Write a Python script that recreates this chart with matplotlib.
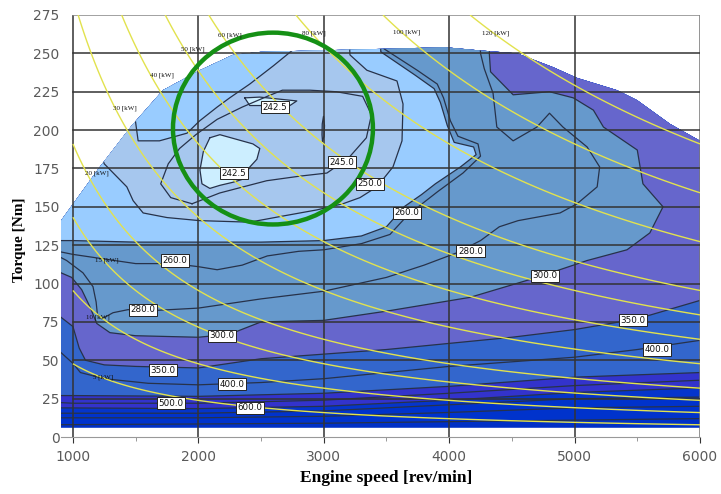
import numpy as np
import matplotlib
matplotlib.use("Agg")
import matplotlib.pyplot as plt
from matplotlib.patches import Polygon, Ellipse

# ---------------- data ----------------
speed_ticks = [1000, 2000, 3000, 4000, 5000, 6000]
speed_minor = [1500, 2500, 3500, 4500, 5500]
torque_ticks = [0, 25, 50, 75, 100, 125, 150, 175, 200, 225, 250, 275]

# full-load torque curve (Nm) and lowest mapped torque
wot_speed = [905, 1215, 1470, 1718, 2013, 2276, 2500, 3000, 3500, 3966, 4230, 4541, 4828, 5019, 5338, 5498, 5761, 6000]
wot_torque = [141, 176, 203, 226, 239, 249, 251, 252, 253, 254, 252, 250, 241, 234, 226, 219.5, 204, 193]
min_torque = 6

# iso-BSFC lines [g/kWh] : speed [rev/min], torque [Nm]
bsfc_1000_speed = [880, 2000, 3000, 4000, 5000, 6000]
bsfc_1000_torque = [8, 8.5, 9, 10, 11, 12]
bsfc_800_speed = [880, 2000, 3000, 4000, 5000, 6000]
bsfc_800_torque = [12.5, 12.5, 13.5, 16, 19, 20]
bsfc_700_speed = [880, 2000, 3000, 4000, 5000, 6000]
bsfc_700_torque = [15.5, 15.5, 17, 21, 25, 26]
bsfc_600_speed = [880, 2000, 3000, 4000, 5000, 6000]
bsfc_600_torque = [19, 18.5, 20, 24, 29, 32]
bsfc_500_speed = [880, 1000, 2000, 3000, 4000, 5000, 6000]
bsfc_500_torque = [22.5, 22, 22, 24, 28.5, 33.5, 37]
bsfc_450_speed = [880, 1000, 2000, 3000, 4000, 5000, 6000]
bsfc_450_torque = [27, 27, 26.5, 28.5, 33, 39, 42]
bsfc_400_speed = [880, 905, 1000, 1060, 1250, 1600, 2000, 2500, 3000, 3500, 4000, 4500, 5000, 5500, 6000]
bsfc_400_torque = [57, 55, 48, 42, 38, 35, 34, 35.5, 38, 42, 46, 49, 52, 57, 63]
bsfc_350_speed = [880, 905, 1000, 1050, 1100, 1250, 1500, 2000, 2500, 3000, 3500, 4000, 4500, 5000, 5500, 6000]
bsfc_350_torque = [80, 78, 72, 58, 50, 47, 46, 45, 51, 54, 57, 61, 65, 70, 77, 89]
bsfc_300_speed = [880, 905, 990, 1070, 1135, 1190, 1295, 1500, 2000, 2250, 2500, 3000, 3500, 4166, 4700, 5100,
                  5418, 5600, 5705, 5545, 5500, 5230, 5150, 4990, 4800, 4510, 4330, 4320, 4330]
bsfc_300_torque = [109, 107, 104, 96, 85, 74, 68, 66, 65, 67, 75, 76, 82, 91, 104, 115,
                   122, 133, 150, 165, 187, 202, 213, 221, 225, 223, 238, 250, 270]
bsfc_280_speed = [880, 950, 1080, 1160, 1185, 1195, 1230, 1320, 1440, 1550, 2000, 2500, 3000, 3500, 3800, 4060,
                  4250, 4400, 4550, 4884, 5020, 5180, 5200, 5100, 4907, 4800, 4700, 4510, 4380, 4350, 4280,
                  4250, 4240]
bsfc_280_torque = [118, 115, 107, 98, 88, 80, 77, 81, 83, 82, 84, 90, 95, 104, 112, 120,
                   128, 137, 141, 146, 152, 163, 176, 189, 202, 211, 202, 193, 202, 224, 240,
                   250, 270]
bsfc_260_speed = [880, 1000, 1250, 1500, 1800, 2000, 2150, 2350, 2550, 2800, 3000, 3300, 3528, 3663, 3800, 3910,
                  4110, 4250, 4230, 4070, 4010, 3955, 3905, 3745, 3480, 3470]
bsfc_260_torque = [121, 119, 116, 113, 113, 111, 109, 112, 118, 121, 122, 126, 132, 144, 153, 160,
                   172, 183, 191, 196, 206, 221, 230, 239, 253, 270]
bsfc_255_speed = [880, 1000, 1500, 2000, 2500, 3000, 3300, 3500, 3640, 3780, 3890, 4090, 4215, 4195, 4040, 3985,
                  3930, 3880, 3725, 3455, 3445]
bsfc_255_torque = [128, 128, 127, 127, 127, 128, 131, 137, 150, 158, 165, 176, 184, 189, 192, 203,
                   218, 227, 236, 251, 270]
bsfc_250_speed = [3200, 3209, 3344, 3584, 3632, 3624, 3552, 3424, 3289, 3153, 2946, 2675, 2410, 2010, 1750, 1560,
                  1480, 1430, 1250, 1150, 1450, 1500, 1520, 1690, 1910, 2010, 2150, 2250, 2410, 2600, 2750, 2760]
bsfc_250_torque = [265, 249, 239, 232, 217, 193, 176, 163, 156, 152, 148, 144, 140, 141, 143, 146,
                   154, 163, 178, 200, 232, 205, 193, 193, 198, 206, 215, 221, 230, 242, 252, 265]
bsfc_245_speed = [1950, 1780, 1700, 1760, 1850, 1980, 2150, 2350, 2550, 2670, 2890, 3100, 3310, 3380, 3340, 3200,
                  3025, 2810, 2545, 2170, 1950]
bsfc_245_torque = [152, 156, 165, 178, 188, 197, 207, 215, 222, 226, 226, 225, 222, 210, 195, 182,
                   172, 170, 167, 159, 152]
bsfc_2425a_speed = [2370, 2490, 2785, 2730, 2410, 2370]
bsfc_2425a_torque = [221, 221.5, 219, 216, 216, 221]
bsfc_2425b_speed = [2092, 2172, 2435, 2490, 2467, 2411, 2355, 2276, 2172, 2092, 2029, 2013, 2040, 2092]
bsfc_2425b_torque = [195, 197, 191, 188, 181, 176, 168, 166, 164, 162, 165, 174, 186, 195]
bsfc_dot_speed = [2990, 3003, 3006, 2998, 2988, 2986, 2990]
bsfc_dot_torque = [193, 196, 203, 209, 204, 197, 193]

# boxed BSFC labels
bsfc_label_text = ['242.5', '242.5', '245.0', '250.0', '260.0', '260.0', '280.0', '280.0',
                   '300.0', '300.0', '350.0', '350.0', '400.0', '400.0', '500.0', '600.0']
bsfc_label_speed = [2611, 2284, 3145, 3370, 3663, 1813, 1558, 4170, 2188, 4764, 1718, 5466, 2268, 5657, 1781, 2411]
bsfc_label_torque = [215, 172, 179, 165, 146, 115, 83, 121, 66, 105, 43.6, 76, 34.5, 57, 22, 19]

# constant power lines
power_levels = [5, 10, 15, 20, 30, 40, 50, 60, 80, 100, 120]
power_label_text = ['5 [kW]', '10 [kW]', '15 [kW]', '20 [kW]', '30 [kW]', '40 [kW]', '50 [kW]',
                    '60 [kW]', '80 [kW]', '100 [kW]', '120 [kW]']
power_label_speed = [1240, 1200, 1271, 1190, 1415, 1710, 1957, 2250, 2922, 3663, 4373]
power_label_torque = [39, 78, 115, 172, 214, 236, 253, 262, 263, 264, 263]

# highlighted area (green ring)
ring_speed, ring_torque = 2595, 201
ring_w, ring_h = 1594, 125

# ---------------- figure ----------------
fig = plt.figure(figsize=(7.21, 4.94), dpi=100)
ax = fig.add_axes([61 / 721, 57 / 494, 639 / 721, 422 / 494])
ax.set_xlim(905, 6000)
ax.set_ylim(0, 275)

clip_verts = [(wot_speed[0], min_torque)] + list(zip(wot_speed, wot_torque)) + [(wot_speed[-1], min_torque)]
clip = Polygon(clip_verts, closed=True, transform=ax.transData, fc='none', ec='none')
ax.add_patch(clip)

base = Polygon(clip_verts, closed=True, fc='#0030C6', ec='none', zorder=1)
ax.add_patch(base)

layers = [
    (bsfc_1000_speed, bsfc_1000_torque, '#0033CC'),
    (bsfc_800_speed, bsfc_800_torque, '#0033CC'),
    (bsfc_700_speed, bsfc_700_torque, '#0535CC'),
    (bsfc_600_speed, bsfc_600_torque, '#3333CC'),
    (bsfc_500_speed, bsfc_500_torque, '#3333CC'),
    (bsfc_450_speed, bsfc_450_torque, '#3366CC'),
    (bsfc_400_speed, bsfc_400_torque, '#3366CC'),
    (bsfc_350_speed, bsfc_350_torque, '#6666CC'),
    (bsfc_300_speed, bsfc_300_torque, '#6699CC'),
    (bsfc_280_speed, bsfc_280_torque, '#6699CC'),
    (bsfc_260_speed, bsfc_260_torque, '#6699CC'),
    (bsfc_255_speed, bsfc_255_torque, '#99CCFF'),
    (bsfc_250_speed, bsfc_250_torque, '#A6C7EE'),
    (bsfc_245_speed, bsfc_245_torque, '#A6C7EE'),
    (bsfc_2425a_speed, bsfc_2425a_torque, '#CCEEFF'),
    (bsfc_2425b_speed, bsfc_2425b_torque, '#CCEEFF'),
    (bsfc_dot_speed, bsfc_dot_torque, '#7F9CC6'),
]

line_color = '#27324A'
for k, (s, t, col) in enumerate(layers):
    verts = list(zip(s, t))
    closed_loop = (s[0] == s[-1] and t[0] == t[-1])
    if not closed_loop:
        verts = verts + [(s[-1], 300), (s[0], 300)]
    poly = Polygon(verts, closed=True, fc=col, ec='none', zorder=1 + 0.01 * k)
    ax.add_patch(poly)
    poly.set_clip_path(clip)
    ln, = ax.plot(s, t, color=line_color, lw=0.9, zorder=2)
    ln.set_clip_path(clip)

# grid
for v in speed_ticks:
    ax.plot([v, v], [0, 275], color='#333333' if v < 6000 else '#777777', lw=1.1, zorder=3)
for h in torque_ticks[1:]:
    ax.plot([1000, 6000], [h, h], color='#333333' if h < 275 else '#888888', lw=1.1, zorder=3)

# constant power lines
grid_speed = np.linspace(1000, 6000, 301)
grid_torque = np.linspace(0, 275, 276)
Sg, Tg = np.meshgrid(grid_speed, grid_torque)
Pg = Tg * Sg * np.pi / 30000.0
ax.contour(Sg, Tg, Pg, levels=power_levels, colors='#E2E24E', linewidths=1.0, zorder=4)

for txt, s, t in zip(power_label_text, power_label_speed, power_label_torque):
    ax.text(s, t, txt, fontsize=5, family='Liberation Serif', ha='center', va='center',
            color='#111111', zorder=7)

# BSFC labels
for txt, s, t in zip(bsfc_label_text, bsfc_label_speed, bsfc_label_torque):
    ax.text(s, t, txt, fontsize=6.3, ha='center', va='center', color='#111111', zorder=8,
            bbox=dict(boxstyle='square,pad=0.18', fc='white', ec='#222222', lw=0.7))

# green ring
ax.add_patch(Ellipse((ring_speed, ring_torque), ring_w, ring_h, fill=False, ec='#159015', lw=3.2, zorder=6))

# axes styling
for side in ['top', 'right', 'left']:
    ax.spines[side].set_visible(False)
ax.spines['bottom'].set_color('#999999')
ax.set_xticks(speed_ticks)
ax.set_xticks(speed_minor, minor=True)
ax.set_yticks(torque_ticks)
ax.tick_params(axis='x', which='major', length=4, color='#333333', labelsize=10, labelcolor='#5a5a5a', pad=5)
ax.tick_params(axis='x', which='minor', length=3, color='#888888')
ax.tick_params(axis='y', length=0, labelsize=10, labelcolor='#5a5a5a', pad=1)
ax.set_facecolor('white')

fig.text(386 / 721, 1 - 478 / 494, 'Engine speed [rev/min]', fontsize=12.5, fontweight='bold',
         family='Liberation Serif', ha='center', va='center')
fig.text(20 / 721, 1 - 240 / 494, 'Torque [Nm]', fontsize=11, fontweight='bold',
         family='Liberation Serif', rotation=90, ha='center', va='center')

fig.savefig('out.png', dpi=100, facecolor='white')
